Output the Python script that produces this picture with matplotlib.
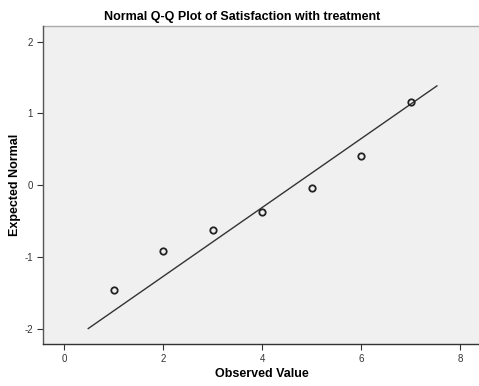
import matplotlib
matplotlib.use("Agg")
import matplotlib.pyplot as plt
import numpy as np

# Observed values and their expected normal scores
observed = [1, 2, 3, 4, 5, 6, 7]
expected_normal = [-1.46, -0.92, -0.62, -0.37, -0.04, 0.41, 1.16]

# Reference line from the fitted normal (mean, sd) over the observed range
line_mean = 4.65
line_sd = 2.08
line_x = [0.49, 7.53]

x_ticks = [0, 2, 4, 6, 8]
y_ticks = [-2, -1, 0, 1, 2]

plt.rcParams['font.family'] = ['Liberation Sans', 'DejaVu Sans']

fig = plt.figure(figsize=(4.79, 3.86), dpi=100)
ax = fig.add_axes([0.0891, 0.108, 0.9109, 0.8246])
ax.set_facecolor('#f0f0f0')

lx = np.array(line_x)
ly = (lx - line_mean) / line_sd
ax.plot(lx, ly, color='#333333', lw=1.0, zorder=2)
ax.plot(observed, expected_normal, linestyle='none', marker='o',
        markersize=4.6, markerfacecolor='none', markeredgecolor='#222222',
        markeredgewidth=1.3, zorder=3)

ax.set_xlim(-0.43, 8.38)
ax.set_ylim(-2.22, 2.22)
ax.set_xticks(x_ticks)
ax.set_yticks(y_ticks)
ax.set_xticklabels([str(v) for v in x_ticks])
ax.set_yticklabels([str(v) for v in y_ticks])
ax.tick_params(axis='both', labelsize=7, colors='#333333', length=4, width=0.8,
               direction='out', pad=3)

for side in ('top', 'right'):
    ax.spines[side].set_visible(False)
ax.spines['left'].set_color('#555555')
ax.spines['bottom'].set_color('#333333')
ax.spines['left'].set_linewidth(1.0)
ax.spines['bottom'].set_linewidth(1.0)
# light frame line along the top
ax.axhline(2.22, color='#aaaaaa', lw=1.0, clip_on=False)

fig.text(0.546, 0.031, 'Observed Value', ha='center', va='center',
         fontsize=9, fontweight='bold')
fig.text(0.031, 0.52, 'Expected Normal', ha='center', va='center',
         rotation=90, fontsize=9, fontweight='bold')
fig.text(0.505, 0.955, 'Normal Q-Q Plot of Satisfaction with treatment',
         ha='center', va='center', fontsize=9, fontweight='bold')

fig.savefig('out.png', dpi=100, facecolor='white')
